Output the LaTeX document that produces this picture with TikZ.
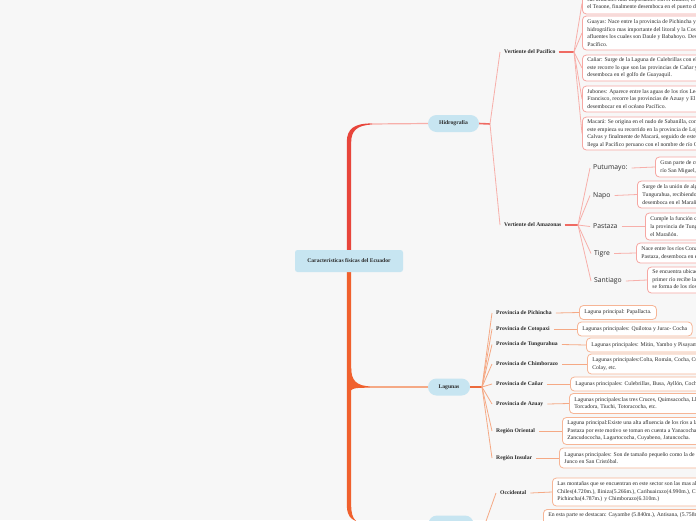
\documentclass[tikz,border=0pt]{standalone}
\usepackage{fontspec}
\setmainfont{Liberation Serif}
\newfontfamily\labsans{Open Sans}
\usetikzlibrary{calc}
\definecolor{bgc}{HTML}{F7F7F7}
\definecolor{pillc}{HTML}{C7E5F1}
\definecolor{spr}{HTML}{E8453B}
\definecolor{spo}{HTML}{F0602D}
\definecolor{hthinc}{HTML}{F7AFAA}
\definecolor{hdark}{HTML}{EF6A62}
\definecolor{hbord}{HTML}{F6A7A2}
\definecolor{lthinc}{HTML}{F5A985}
\definecolor{ldark}{HTML}{EC6A3C}
\definecolor{lbord}{HTML}{F6B596}
\definecolor{txt}{HTML}{2B2B2B}
\pgfdeclarelayer{back}
\pgfsetlayers{back,main}
\newcommand\bodyf{\fontsize{5.7}{7.6}\selectfont}
\newcommand\labf{\fontsize{5.65}{7}\selectfont\bfseries}
\begin{document}
\begin{tikzpicture}[x=1pt,y=-1pt,
  every node/.style={text=txt},
  pill/.style={fill=pillc, rounded corners=8.5, minimum height=17, inner sep=0, font=\labf},
  rootbox/.style={fill=pillc, rounded corners=2.5, minimum width=108, minimum height=22, inner sep=0, font=\labf},
  lab/.style={anchor=west, inner sep=0, font=\labf},
  slab/.style={anchor=west, inner sep=0, font=\labsans\fontsize{6.8}{8}\selectfont},
  hbox/.style={draw=hbord, fill=white, line width=0.8, rounded corners=4, anchor=west, align=left, inner xsep=5, inner ysep=2, font=\bodyf},
  lbox/.style={hbox, draw=lbord},
  hline/.style={draw=hthinc, line width=0.8},
  hshort/.style={draw=hdark, line width=1.6},
  lline/.style={draw=lthinc, line width=0.8},
  lshort/.style={draw=ldark, line width=1.6},
]
\path[use as bounding box] (0,0) rectangle (696,520);
\clip (0,0) rectangle (696,520);
\begin{pgfonlayer}{back}
\fill[bgc] (0,0) rectangle (696,520);
\end{pgfonlayer}

% main nodes
\node[rootbox] (root) at (349,261) {Características físicas del Ecuador};
\node[pill, minimum width=51] (hid) at (453.5,123.5) {Hidrografía};
\node[pill, minimum width=42] (lag) at (449,387) {Lagunas};
\node[pill, minimum width=45] (mon) at (451,524) {};

% hydro level 2
\node[lab] (pac) at (504,52) {Vertiente del Pacífico};
\node[lab] (ama) at (504,225) {Vertiente del Amazonas};
\coordinate (jh) at (490,124);
\coordinate (j1) at (574,52);
\coordinate (j2) at (578,225);

% Pacific boxes
\node[hbox, minimum height=21] (b1) at (582,3.5) {sus afluentes más importantes son el Blanco, el Quinindé y el Viche,\\el Teaone, finalmente desemboca en el puerto de Esmeraldas.};
\node[hbox, minimum height=34] (b2) at (582,33) {Guayas: Nace entre la provincia de Pichincha y Cotopaxi, es el sistema\\hidrográfico mas importante del litoral y la Costa del Pacífico, tiene dos\\afluentes los cuales son Daule y Babahoyo. Desemboca en el océano\\Pacífico.};
\node[hbox, minimum height=26] (b3) at (582,68) {Cañar: Surge de la Laguna de Culebrillas con el nombre de San Antonio,\\este recorre lo que son las provincias de Cañar y Guayas, finalmente\\desemboca en el golfo de Guayaquil.};
\node[hbox, minimum height=26] (b4) at (582,99) {Jubones: Aparece entre las aguas de los ríos León y San\\Francisco, recorre las provincias de Azuay y El Oro para\\desembocar en el océano Pacífico.};
\node[hbox, minimum height=33] (b5) at (582,133.5) {Macará: Se origina en el nudo de Sabanilla, con el nombre de Espíndola,\\este empieza su recorrido en la provincia de Loja, pasa por los cantones de\\Calvas y finalmente de Macará, seguido de este ingresa al Perú donde\\llega al Pacífico peruano con el nombre de río Chira.};

% Amazon labels and boxes
\node[slab] (put) at (593,168) {Putumayo:};
\node[slab] (nap) at (593,195.5) {Napo};
\node[slab] (pas) at (593,226.5) {Pastaza};
\node[slab] (tig) at (594,253.5) {Tigre};
\node[slab] (san) at (594,281) {Santiago};
\node[hbox, minimum height=20] (bput) at (655,167) {Gran parte de curso sirve de límite con Colombia,\\río San Miguel, nace en la cordillera.};
\node[hbox, minimum height=27] (bnap) at (637,194.5) {Surge de la unión de algunos ríos que nacen en el\\Tungurahua, recibiendo el Coca, Aguarico y Curaray,\\desemboca en el Marañón.};
\node[hbox, minimum height=27] (bpas) at (645,226.5) {Cumple la función de límite entre\\la provincia de Tungurahua y Morona,\\el Marañón.};
\node[hbox, minimum height=20] (btig) at (636,253) {Nace entre los ríos Conambo y Pintoyacu en\\Pastaza, desemboca en el Marañón.};
\node[hbox, minimum height=26] (bsan) at (647,280) {Se encuentra ubicado en Morona Santiago,\\primer río recibe las aguas del Zamora,\\se forma de los ríos Zamora y Namangoza.};

% Lagunas labels and boxes
\coordinate (j3) at (482,387);
\node[lab] (lpic) at (496,313) {Provincia de Pichincha};
\node[lab] (lcot) at (496,329) {Provincia de Cotopaxi};
\node[lab] (ltun) at (496,344.5) {Provincia de Tungurahua};
\node[lab] (lchi) at (496,364) {Provincia de Chimborazo};
\node[lab] (lcan) at (496,384) {Provincia de Cañar};
\node[lab] (laz) at (496,404) {Provincia de Azuay};
\node[lab] (lori) at (496,431) {Región Oriental};
\node[lab] (lins) at (496,458) {Región Insular};
\node[lbox, minimum height=14] (bpic) at (579,312.5) {Laguna principal: Papallacta.};
\node[lbox, minimum height=14] (bcot) at (577,329) {Lagunas principales: Quilotoa y Jurac- Cocha};
\node[lbox, minimum height=14] (btun) at (586,345) {Lagunas principales: Mitin, Yambo y Pisayambo.};
\node[lbox, minimum height=20] (bchi) at (587,364) {Lagunas principales:Colta, Román, Cocha, Cubillín, Atillo,\\Colay, etc.};
\node[lbox, minimum height=14] (bcan) at (570,384) {Lagunas principales: Culebrillas, Busa, Ayllón, Cochaguaico.};
\node[lbox, minimum height=20] (baz) at (569,403.5) {Lagunas principales:las tres Cruces, Quimsacocha, Llaviucu,\\Torcadora,  Tiuchi, Totoracocha, etc.};
\node[lbox, minimum height=27] (bori) at (562,431) {Laguna principal:Existe una alta afluencia de los ríos a la provincia de\\Pastaza por este motivo se toman en cuenta a Yanacocha, Limoncocha,\\Zancudococha, Lagartococha, Cuyabeno, Jatuncocha.};
\node[lbox, minimum height=20] (bins) at (559,458) {Lagunas principales: Son de tamaño pequeño como la de El\\Junco en San Cristóbal.};

% Montanas
\coordinate (j4) at (485,524);
\node[lab] (locc) at (500,493) {Occidental};
\node[lbox, minimum height=28] (bocc) at (552,492) {Las montañas que se encuentran en este sector son las mas altas:\\Chiles(4.720m.), Iliniza(5.266m.), Carihuairazo(4.990m.), Cotacachi\\Pichincha(4.787m.) y Chimborazo(6.310m.)};
\node[lbox, anchor=north west, inner ysep=3, text depth=25] (bor2) at (543,509) {En esta parte se destacan: Cayambe (5.840m.), Antisana, (5.758m.), Cotopaxi};

\begin{pgfonlayer}{back}
% spine
\fill[spr] (root.north -| 346.8,0) -- (346.8,142) .. controls (346.8,129) and (354,123.3) .. (372,123.4) -- (372,124.6) .. controls (357,125) and (351.2,131) .. (351.2,142) -- (root.north -| 351.2,0) -- cycle;
\fill[spo] (root.south -| 346.8,0) -- (346.8,505) .. controls (346.8,518) and (353,523.4) .. (372,523.4) -- (372,524.6) .. controls (356,525) and (351.2,520) .. (351.2,505) -- (root.south -| 351.2,0) -- cycle;
\fill[spo] (349,368) -- (351.2,368) .. controls (351.2,380) and (356,386.4) .. (372,386.4) -- (372,387.6) .. controls (356,388) and (351,387) .. (349,394) -- cycle;
\draw[draw=hthinc, line width=1.2] (370,124) -- (hid.west);
\draw[draw=lthinc, line width=1.2] (370,387) -- (lag.west);
\draw[draw=lthinc, line width=1.2] (370,524) -- (mon.west);
% hydro fan
\draw[hshort] (hid.east) -- (jh);
\draw[hline] (jh) -- ([xshift=-4]pac.west);
\draw[hline] (jh) -- ([xshift=-4]ama.west);
\draw[hshort] ([xshift=3]pac.east) -- (j1);
\draw[hshort] ([xshift=3]ama.east) -- (j2);
\foreach \b in {b1,b2,b3,b4,b5} \draw[hline] (j1) -- (\b.west);
\foreach \l/\b in {put/bput,nap/bnap,pas/bpas,tig/btig,san/bsan} {
  \draw[hline] (j2) -- ([xshift=-3]\l.west);
  \draw[hline] ([xshift=4]\l.east) -- (\b.west);
}
% lagunas fan
\draw[lshort] (lag.east) -- (j3);
\foreach \l/\b in {lpic/bpic,lcot/bcot,ltun/btun,lchi/bchi,lcan/bcan,laz/baz,lori/bori,lins/bins} {
  \draw[lline] (j3) -- ([xshift=-4]\l.west);
  \draw[lline] ([xshift=4]\l.east) -- (\b.west);
}
% montanas fan
\draw[lshort] (mon.east) -- (j4);
\draw[lline] (j4) -- ([xshift=-4]locc.west);
\draw[lline] ([xshift=4]locc.east) -- (bocc.west);
\end{pgfonlayer}
\end{tikzpicture}
\end{document}
